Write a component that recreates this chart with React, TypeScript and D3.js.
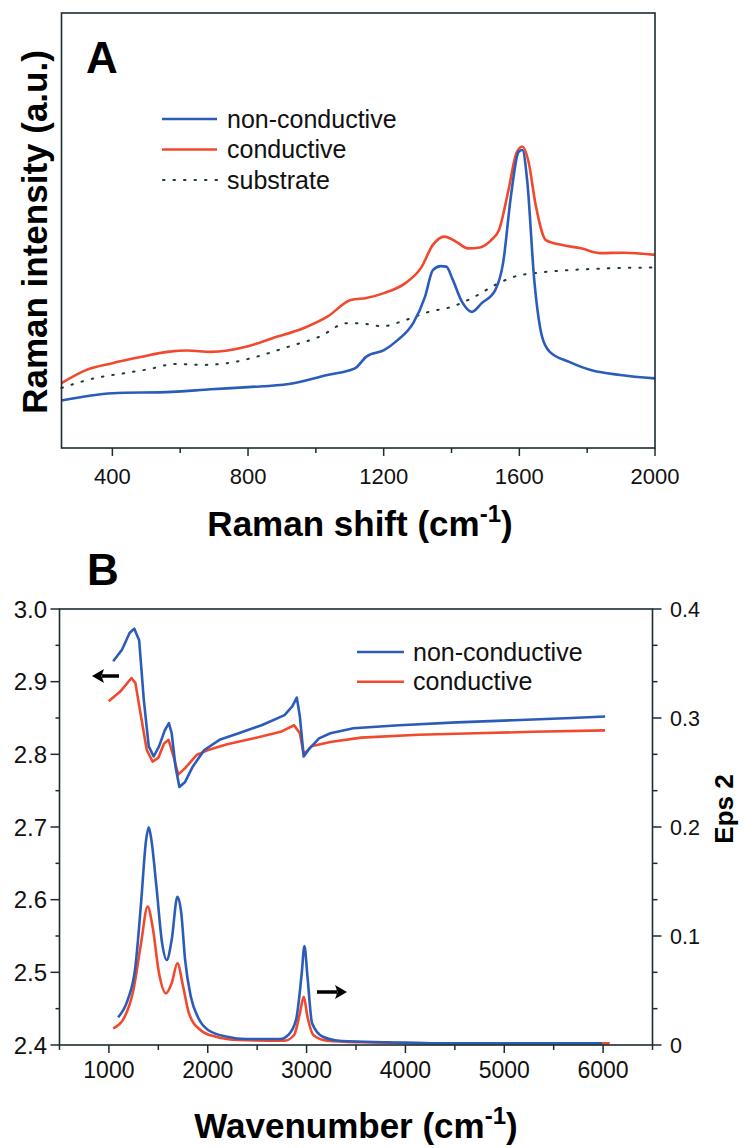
import React from "react";
import * as d3 from "d3";

// ---------- Panel A: Raman spectra (arbitrary intensity units) ----------
const ramanXConductive = [250, 322, 400, 483, 563, 621, 690, 800, 874, 965, 1034, 1103, 1149, 1201, 1264, 1310, 1345, 1379, 1414, 1448, 1483, 1517, 1540, 1568, 1591, 1609, 1626, 1649, 1678, 1724, 1782, 1839, 1908, 2000];
const ramanYConductive = [14.9, 17.9, 19.5, 20.9, 22.1, 22.4, 22.1, 23.4, 25.3, 27.6, 30.2, 34.0, 34.5, 35.6, 37.9, 41.4, 46.7, 48.6, 47.4, 45.9, 46.1, 47.8, 50.1, 59.3, 67.7, 69.3, 66.2, 55.5, 47.8, 46.7, 45.9, 44.8, 44.9, 44.4];

const ramanXNonConductive = [250, 400, 575, 690, 800, 920, 1034, 1115, 1149, 1201, 1241, 1287, 1322, 1345, 1368, 1385, 1402, 1431, 1460, 1489, 1529, 1552, 1575, 1598, 1609, 1623, 1644, 1667, 1690, 1747, 1816, 1897, 2000];
const ramanYNonConductive = [10.9, 12.6, 12.9, 13.5, 14.0, 14.7, 16.8, 18.3, 21.0, 22.5, 24.8, 28.7, 34.8, 40.9, 41.8, 41.7, 39.0, 33.6, 31.3, 33.3, 36.3, 42.5, 57.8, 68.1, 68.5, 61.6, 38.6, 25.6, 22.1, 19.8, 17.8, 16.8, 16.0];

const ramanXSubstrate = [250, 345, 437, 506, 586, 667, 747, 826, 920, 1011, 1092, 1126, 1195, 1264, 1333, 1402, 1471, 1529, 1586, 1655, 1747, 1862, 2000];
const ramanYSubstrate = [13.8, 16.0, 17.2, 18.1, 19.3, 19.1, 19.6, 21.0, 23.3, 25.6, 28.7, 28.7, 28.0, 29.4, 31.3, 32.5, 34.9, 37.5, 39.4, 40.3, 40.9, 41.3, 41.5];

const ramanMajorTicks = [400, 800, 1200, 1600, 2000];
const ramanMinorTicks = [600, 1000, 1400, 1800];

// ---------- Panel B: dielectric function ----------
const eps1XNon = [1043, 1132, 1209, 1256, 1306, 1353, 1403, 1453, 1507, 1565, 1607, 1635, 1674, 1713, 1771, 1848, 1965, 2119, 2313, 2545, 2777, 2855, 2901, 2932, 2971, 3029, 3126, 3241, 3474, 3938, 4518, 5099, 5680, 6020];
const eps1YNon = [2.928, 2.944, 2.967, 2.973, 2.957, 2.875, 2.811, 2.797, 2.811, 2.833, 2.843, 2.829, 2.783, 2.755, 2.762, 2.783, 2.806, 2.820, 2.829, 2.840, 2.854, 2.866, 2.878, 2.852, 2.797, 2.808, 2.822, 2.829, 2.836, 2.840, 2.844, 2.847, 2.850, 2.852];

const eps1XCon = [997, 1112, 1228, 1268, 1325, 1383, 1442, 1499, 1558, 1604, 1654, 1701, 1771, 1887, 2003, 2196, 2467, 2738, 2874, 2932, 2971, 3048, 3241, 3551, 4132, 4713, 5294, 6020];
const eps1YCon = [2.873, 2.886, 2.905, 2.898, 2.852, 2.806, 2.790, 2.795, 2.815, 2.820, 2.797, 2.772, 2.781, 2.799, 2.806, 2.814, 2.822, 2.831, 2.840, 2.829, 2.800, 2.811, 2.817, 2.823, 2.827, 2.829, 2.831, 2.833];

const eps2XNon = [1093, 1190, 1268, 1325, 1376, 1403, 1430, 1481, 1539, 1585, 1635, 1693, 1732, 1771, 1829, 1906, 2003, 2196, 2390, 2738, 2815, 2893, 2951, 2978, 3009, 3056, 3164, 3357, 3823, 4325, 5990];
const eps2YNon = [0.0254, 0.0413, 0.0719, 0.130, 0.188, 0.1997, 0.188, 0.145, 0.093, 0.078, 0.0963, 0.136, 0.121, 0.078, 0.0443, 0.0245, 0.0138, 0.0076, 0.0055, 0.0055, 0.0092, 0.023, 0.0658, 0.0908, 0.0627, 0.0199, 0.0076, 0.0037, 0.0025, 0.0015, 0.0015];

const eps2XCon = [1043, 1151, 1248, 1325, 1392, 1442, 1507, 1577, 1635, 1693, 1751, 1810, 1925, 2080, 2313, 2777, 2874, 2932, 2971, 3009, 3068, 3203, 3551, 4325, 6067];
const eps2YCon = [0.0153, 0.0245, 0.0505, 0.0933, 0.127, 0.1085, 0.0658, 0.0474, 0.0566, 0.075, 0.0535, 0.029, 0.0138, 0.0076, 0.0046, 0.004, 0.0092, 0.029, 0.0443, 0.026, 0.0092, 0.004, 0.0025, 0.0015, 0.0015];

const wnMajorTicks = [1000, 2000, 3000, 4000, 5000, 6000];
const wnMinorTicks = [500, 1500, 2500, 3500, 4500, 5500, 6500];
const eps1MajorTicks = [2.4, 2.5, 2.6, 2.7, 2.8, 2.9, 3.0];
const eps1MinorTicks = [2.45, 2.55, 2.65, 2.75, 2.85, 2.95];
const eps2MajorTicks = [0, 0.1, 0.2, 0.3, 0.4];
const eps2MinorTicks = [1 / 30, 2 / 30, 4 / 30, 5 / 30, 7 / 30, 8 / 30, 10 / 30, 11 / 30];

const legendLabels = ["non-conductive", "conductive", "substrate"];

const FONT = "'Liberation Sans', Arial, Helvetica, sans-serif";
const AXIS = "#1c2c30";
const BLUE = "#2c5cba";
const RED = "#f1492d";
const DOT = "#1d3838";

const zip = (xs: number[], ys: number[]) => xs.map((x, i) => [x, ys[i]] as [number, number]);

function Arrow({ x1, x2, y }: { x1: number; x2: number; y: number }) {
  const dir = Math.sign(x2 - x1);
  const headLen = 12;
  const hx = x2 - dir * headLen;
  return (
    <g>
      <line x1={x1} y1={y} x2={hx + dir * 2} y2={y} stroke="#000" strokeWidth={3.5} />
      <polygon points={`${x2},${y} ${hx},${y - 7} ${hx + dir * 2.5},${y} ${hx},${y + 7}`} fill="#000" />
    </g>
  );
}

export default function App() {
  const xA = d3.scaleLinear().domain([250, 2000]).range([61.5, 655]);
  const yA = d3.scaleLinear().domain([0, 100]).range([448, 13]);
  const lineA = d3
    .line<[number, number]>()
    .x((d) => xA(d[0]))
    .y((d) => yA(d[1]))
    .curve(d3.curveMonotoneX);

  const xB = d3.scaleLinear().domain([500, 6500]).range([59.5, 652.5]);
  const yB1 = d3.scaleLinear().domain([2.4, 3.0]).range([1045, 609]);
  const yB2 = d3.scaleLinear().domain([0, 0.4]).range([1045, 609]);
  const lineB1 = d3
    .line<[number, number]>()
    .x((d) => xB(d[0]))
    .y((d) => yB1(d[1]))
    .curve(d3.curveLinear);
  const lineB2 = d3
    .line<[number, number]>()
    .x((d) => xB(d[0]))
    .y((d) => yB2(d[1]))
    .curve(d3.curveMonotoneX);

  const [a0, a1] = xA.range();
  const [aBot, aTop] = yA.range();
  const [b0, b1] = xB.range();
  const [bBot, bTop] = yB1.range();

  return (
    <svg
      width={753}
      height={1148}
      viewBox="0 0 753 1148"
      style={{ position: "absolute", left: 0, top: 0, background: "#fff" }}
      fontFamily={FONT}
    >
      <rect width={753} height={1148} fill="#fff" />

      {/* ================= Panel A ================= */}
      <g>
        <path d={lineA(zip(ramanXSubstrate, ramanYSubstrate)) || ""} fill="none" stroke={DOT} strokeWidth={2} strokeDasharray="1.5 9" strokeLinecap="round" />
        <path d={lineA(zip(ramanXConductive, ramanYConductive)) || ""} fill="none" stroke={RED} strokeWidth={2.6} strokeLinejoin="round" />
        <path d={lineA(zip(ramanXNonConductive, ramanYNonConductive)) || ""} fill="none" stroke={BLUE} strokeWidth={2.6} strokeLinejoin="round" />

        <rect x={a0} y={aTop} width={a1 - a0} height={aBot - aTop} fill="none" stroke={AXIS} strokeWidth={1.6} />

        {ramanMajorTicks.map((t) => (
          <g key={"am" + t}>
            <line x1={xA(t)} x2={xA(t)} y1={aBot} y2={aBot + 8} stroke={AXIS} strokeWidth={1.5} />
            <text x={xA(t)} y={484} fontSize={22} textAnchor="middle" fill="#111">
              {t}
            </text>
          </g>
        ))}
        {ramanMinorTicks.map((t) => (
          <line key={"an" + t} x1={xA(t)} x2={xA(t)} y1={aBot} y2={aBot + 5} stroke={AXIS} strokeWidth={1.5} />
        ))}

        <text x={86} y={73} fontSize={44} fontWeight="bold" fill="#000">
          A
        </text>

        {legendLabels.map((lab, i) => {
          const ly = 119 + i * 30.5;
          const color = i === 0 ? BLUE : i === 1 ? RED : DOT;
          return (
            <g key={lab}>
              {i < 2 ? (
                <line x1={162} x2={217} y1={ly} y2={ly} stroke={color} strokeWidth={2.6} />
              ) : (
                <line x1={163} x2={217} y1={ly} y2={ly} stroke={color} strokeWidth={2} strokeDasharray="1.5 9" strokeLinecap="round" />
              )}
              <text x={227} y={ly} dy="0.35em" fontSize={25} fill="#111">
                {lab}
              </text>
            </g>
          );
        })}

        <text x={360} y={536} fontSize={35} fontWeight="bold" textAnchor="middle" fill="#000">
          Raman shift (cm
          <tspan fontSize={24} dy={-14}>
            -1
          </tspan>
          <tspan dy={14}>)</tspan>
        </text>
        <text transform="translate(47,232) rotate(-90)" fontSize={35} fontWeight="bold" textAnchor="middle" fill="#000">
          Raman intensity (a.u.)
        </text>
      </g>

      {/* ================= Panel B ================= */}
      <g>
        <text x={87} y={585} fontSize={44} fontWeight="bold" fill="#000">
          B
        </text>

        <path d={lineB1(zip(eps1XCon, eps1YCon)) || ""} fill="none" stroke={RED} strokeWidth={2.6} strokeLinejoin="round" />
        <path d={lineB1(zip(eps1XNon, eps1YNon)) || ""} fill="none" stroke={BLUE} strokeWidth={2.6} strokeLinejoin="round" />
        <path d={lineB2(zip(eps2XCon, eps2YCon)) || ""} fill="none" stroke={RED} strokeWidth={2.6} strokeLinejoin="round" />
        <path d={lineB2(zip(eps2XNon, eps2YNon)) || ""} fill="none" stroke={BLUE} strokeWidth={2.6} strokeLinejoin="round" />

        <rect x={b0} y={bTop} width={b1 - b0} height={bBot - bTop} fill="none" stroke={AXIS} strokeWidth={1.6} />

        {wnMajorTicks.map((t) => (
          <g key={"bm" + t}>
            <line x1={xB(t)} x2={xB(t)} y1={bBot} y2={bBot + 8} stroke={AXIS} strokeWidth={1.5} />
            <text x={xB(t)} y={1078} fontSize={23} textAnchor="middle" fill="#111">
              {t}
            </text>
          </g>
        ))}
        {wnMinorTicks.map((t) => (
          <line key={"bn" + t} x1={xB(t)} x2={xB(t)} y1={bBot} y2={bBot + 5} stroke={AXIS} strokeWidth={1.5} />
        ))}

        {eps1MajorTicks.map((t) => (
          <g key={"lm" + t}>
            <line x1={b0 - 9} x2={b0} y1={yB1(t)} y2={yB1(t)} stroke={AXIS} strokeWidth={1.5} />
            <text x={47} y={yB1(t)} dy="0.36em" fontSize={24} textAnchor="end" fill="#111">
              {t.toFixed(1)}
            </text>
          </g>
        ))}
        {eps1MinorTicks.map((t) => (
          <line key={"ln" + t} x1={b0 - 4} x2={b0} y1={yB1(t)} y2={yB1(t)} stroke={AXIS} strokeWidth={1.5} />
        ))}

        {eps2MajorTicks.map((t) => (
          <g key={"rm" + t}>
            <line x1={b1} x2={b1 + 9} y1={yB2(t)} y2={yB2(t)} stroke={AXIS} strokeWidth={1.5} />
            <text x={670} y={yB2(t)} dy="0.36em" fontSize={21.5} textAnchor="start" fill="#111">
              {t === 0 ? "0" : t.toFixed(1)}
            </text>
          </g>
        ))}
        {eps2MinorTicks.map((t, i) => (
          <line key={"rn" + i} x1={b1} x2={b1 + 5} y1={yB2(t)} y2={yB2(t)} stroke={AXIS} strokeWidth={1.5} />
        ))}

        {legendLabels.slice(0, 2).map((lab, i) => {
          const ly = 652 + i * 29.7;
          return (
            <g key={"bl" + lab}>
              <line x1={357} x2={404} y1={ly} y2={ly} stroke={i === 0 ? BLUE : RED} strokeWidth={2.6} />
              <text x={413} y={ly} dy="0.35em" fontSize={25} fill="#111">
                {lab}
              </text>
            </g>
          );
        })}

        <Arrow x1={119} x2={92} y={676} />
        <Arrow x1={317} x2={347} y={992} />

        <text x={356} y={1138} fontSize={35} fontWeight="bold" textAnchor="middle" fill="#000">
          Wavenumber (cm
          <tspan fontSize={24} dy={-14}>
            -1
          </tspan>
          <tspan dy={14}>)</tspan>
        </text>
        <text transform="translate(733,809) rotate(-90)" fontSize={26} fontWeight="bold" textAnchor="middle" fill="#000">
          Eps 2
        </text>
      </g>
    </svg>
  );
}
